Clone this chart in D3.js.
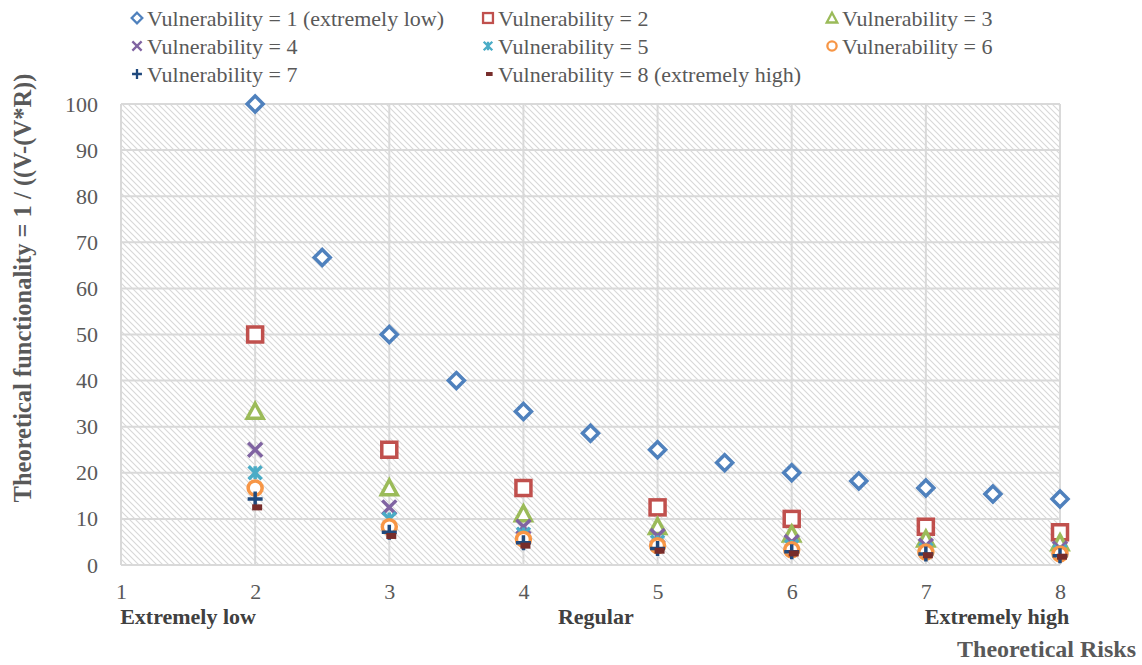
<!DOCTYPE html>
<html><head><meta charset="utf-8">
<script src="https://cdn.jsdelivr.net/npm/d3@7"></script>
<style>
html,body{margin:0;padding:0;background:#fff;}
</style></head>
<body>
<script>
// ---- data ----
const risksHalf = [2, 2.5, 3, 3.5, 4, 4.5, 5, 5.5, 6, 6.5, 7, 7.5, 8];
const risksInt = [2, 3, 4, 5, 6, 7, 8];
const v1 = [100, 66.7, 50, 40, 33.3, 28.6, 25, 22.2, 20, 18.2, 16.7, 15.4, 14.3];
const v2 = [50, 25, 16.7, 12.5, 10, 8.3, 7.1];
const v3 = [33.3, 16.7, 11.1, 8.3, 6.7, 5.6, 4.8];
const v4 = [25, 12.5, 8.3, 6.3, 5, 4.2, 3.6];
const v5 = [20, 10, 6.7, 5, 4, 3.3, 2.9];
const v6 = [16.7, 8.3, 5.6, 4.2, 3.3, 2.8, 2.4];
const v7 = [14.3, 7.1, 4.8, 3.6, 2.9, 2.4, 2.0];
const v8 = [12.5, 6.3, 4.2, 3.1, 2.5, 2.1, 1.8];
const seriesNames = ["Vulnerability = 1 (extremely low)", "Vulnerability = 2", "Vulnerability = 3",
  "Vulnerability = 4", "Vulnerability = 5", "Vulnerability = 6",
  "Vulnerability = 7", "Vulnerability = 8 (extremely high)"];
const yTicks = [0, 10, 20, 30, 40, 50, 60, 70, 80, 90, 100];
const xTicks = [1, 2, 3, 4, 5, 6, 7, 8];
const xCategoryLabels = [{x: 1.5, t: "Extremely low"}, {x: 4.54, t: "Regular"}, {x: 7.53, t: "Extremely high"}];
const xTitle = "Theoretical Risks";
const yTitle = "Theoretical functionality = 1 / ((V-(V*R))";

const seriesData = [
  {x: risksHalf, y: v1}, {x: risksInt, y: v2}, {x: risksInt, y: v3}, {x: risksInt, y: v4},
  {x: risksInt, y: v5}, {x: risksInt, y: v6}, {x: risksInt, y: v7}, {x: risksInt, y: v8}
];
const colors = ["#4F81BD", "#C0504D", "#9BBB59", "#8064A2", "#4BACC6", "#F79646", "#1F497D", "#772C2A"];
const shapes = ["diamond", "square", "triangle", "x", "star", "circle", "plus", "dash"];
const FONT = "'Liberation Serif', 'Times New Roman', serif";

// ---- layout ----
const W = 1142, H = 665;
const svg = d3.select("body").append("svg").attr("width", W).attr("height", H)
  .style("font-family", FONT);
const x = d3.scaleLinear().domain([1, 8]).range([121, 1060]);
const y = d3.scaleLinear().domain([0, 100]).range([565, 104]);

const defs = svg.append("defs");
const pat = defs.append("pattern").attr("id", "hatch").attr("patternUnits", "userSpaceOnUse")
  .attr("width", 6).attr("height", 6);
pat.append("rect").attr("width", 6).attr("height", 6).attr("fill", "#fff");
pat.append("path").attr("d", "M-1,-1 L7,7 M-1,5 L1,7 M5,-1 L7,1")
  .attr("stroke", "#d8d8d8").attr("stroke-width", 1.1);

// plot area
svg.append("rect").attr("x", x(1)).attr("y", y(100)).attr("width", x(8) - x(1)).attr("height", y(0) - y(100))
  .attr("fill", "url(#hatch)");

// grid
const grid = svg.append("g");
grid.selectAll("line.h").data(yTicks).join("line").attr("class", "h")
  .attr("x1", x(1)).attr("x2", x(8)).attr("y1", d => y(d)).attr("y2", d => y(d))
  .attr("stroke", "#d9d9d9").attr("stroke-width", 2);
grid.selectAll("line.v").data(xTicks).join("line").attr("class", "v")
  .attr("y1", y(0)).attr("y2", y(100)).attr("x1", d => x(d)).attr("x2", d => x(d))
  .attr("stroke", "#d9d9d9").attr("stroke-width", 2);

// axes (labels only)
const yAxis = d3.axisLeft(y).tickValues(yTicks).tickSize(0).tickPadding(23).tickFormat(d3.format("d"));
const gy = svg.append("g").attr("transform", `translate(${x(1)},0)`).call(yAxis);
gy.attr("font-family", null);
gy.select(".domain").remove();
gy.selectAll("text").attr("font-size", 22).attr("fill", "#595959").style("font-family", FONT);

const xAxis = d3.axisBottom(x).tickValues(xTicks).tickSize(0).tickPadding(18).tickFormat(d3.format("d"));
const gx = svg.append("g").attr("transform", `translate(0,${y(0)})`).call(xAxis);
gx.attr("font-family", null);
gx.select(".domain").remove();
gx.selectAll("text").attr("font-size", 22).attr("fill", "#595959").style("font-family", FONT);

// category labels
svg.selectAll("text.cat").data(xCategoryLabels).join("text").attr("class", "cat")
  .attr("x", d => x(d.x)).attr("y", 624).attr("text-anchor", "middle")
  .attr("font-size", 22).attr("font-weight", "bold").attr("fill", "#404040").text(d => d.t);

svg.append("text").attr("x", 1136).attr("y", 657).attr("text-anchor", "end")
  .attr("font-size", 24).attr("font-weight", "bold").attr("fill", "#595959").text(xTitle);

svg.append("text").attr("transform", "translate(31,288) rotate(-90)").attr("text-anchor", "middle")
  .attr("font-size", 24.5).attr("font-weight", "bold").attr("fill", "#595959").text(yTitle);

// markers
function drawMarker(g, shape, color, s) {
  const sw = 3.5 * s;
  if (shape === "diamond") {
    const r = 8 * s;
    g.append("path").attr("d", `M0,${-r} L${r},0 L0,${r} L${-r},0 Z`).attr("fill", "#fff").attr("stroke", color).attr("stroke-width", sw);
  } else if (shape === "square") {
    const h = 7.5 * s;
    g.append("rect").attr("x", -h).attr("y", -h).attr("width", 2 * h).attr("height", 2 * h).attr("fill", "#fff").attr("stroke", color).attr("stroke-width", sw);
  } else if (shape === "triangle") {
    const h = 8 * s;
    g.append("path").attr("d", `M0,${-h} L${h},${h * 0.85} L${-h},${h * 0.85} Z`).attr("fill", "#fff").attr("stroke", color).attr("stroke-width", sw);
  } else if (shape === "x") {
    const h = 7 * s;
    g.append("path").attr("d", `M${-h},${-h} L${h},${h} M${h},${-h} L${-h},${h}`).attr("stroke", color).attr("stroke-width", sw);
  } else if (shape === "star") {
    const h = 6.5 * s;
    g.append("path").attr("d", `M${-h},${-h} L${h},${h} M${h},${-h} L${-h},${h} M0,${-h} L0,${h}`).attr("stroke", color).attr("stroke-width", sw);
  } else if (shape === "circle") {
    g.append("circle").attr("r", 7 * s).attr("fill", "#fff").attr("stroke", color).attr("stroke-width", sw);
  } else if (shape === "plus") {
    const h = 7.5 * s;
    g.append("path").attr("d", `M${-h},0 L${h},0 M0,${-h} L0,${h}`).attr("stroke", color).attr("stroke-width", sw);
  } else if (shape === "dash") {
    g.append("rect").attr("x", -3 * s).attr("y", -3 * s).attr("width", 10 * s).attr("height", 6 * s).attr("fill", color);
  }
}

seriesData.forEach((sd, i) => {
  const g = svg.append("g");
  sd.y.forEach((v, j) => {
    const m = g.append("g").attr("transform", `translate(${x(sd.x[j])},${y(v)})`);
    drawMarker(m, shapes[i], colors[i], 1);
  });
});

// legend
const legCols = [137, 488, 832];
const legRows = [18, 46, 74];
seriesNames.forEach((name, i) => {
  const cx = legCols[i % 3], cy = legRows[Math.floor(i / 3)];
  const g = svg.append("g").attr("transform", `translate(${cx},${cy})`);
  drawMarker(g, shapes[i], colors[i], 0.66);
  g.append("text").attr("x", 10).attr("y", 7.5).attr("font-size", 22).attr("fill", "#595959").text(name);
});
</script>
</body></html>
